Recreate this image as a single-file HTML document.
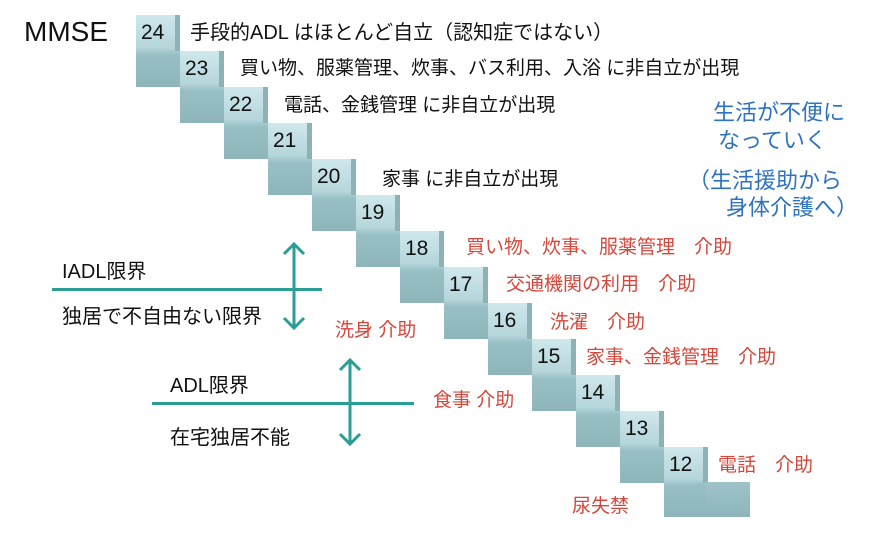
<!DOCTYPE html>
<html><head><meta charset="utf-8"><style>
body{margin:0;width:881px;height:534px;background:#fff;position:relative;overflow:hidden;font-family:"Liberation Sans","Noto Sans CJK JP",sans-serif}
.s{position:absolute;width:44px;height:72px;background:linear-gradient(#cfe8ec 0%,#b5d6db 45%,#98bfc4 55%,#8db5ba 100%)}
.s i{position:absolute;right:0;top:0;width:5px;height:36px;background:#8fb0b4}
.n{position:absolute;font-size:21px;color:#111;left:5px;top:6px}
.t{position:absolute;font-size:19px;color:#111;white-space:nowrap}
.r{color:#d4473c}
.b{color:#2e72c0;font-size:22px}
.ln{position:absolute;height:3px;background:#2a9d94}
svg{position:absolute;left:0;top:0}
</style></head><body>
<div class="t" style="left:24px;top:16px;font-size:28px">MMSE</div>
<div class="s" style="left:136px;top:15px"><i></i><span class="n">24</span></div>
<div class="s" style="left:180px;top:51px"><i></i><span class="n">23</span></div>
<div class="s" style="left:224px;top:87px"><i></i><span class="n">22</span></div>
<div class="s" style="left:268px;top:123px"><i></i><span class="n">21</span></div>
<div class="s" style="left:312px;top:159px"><i></i><span class="n">20</span></div>
<div class="s" style="left:356px;top:195px"><i></i><span class="n">19</span></div>
<div class="s" style="left:400px;top:231px"><i></i><span class="n">18</span></div>
<div class="s" style="left:444px;top:267px"><i></i><span class="n">17</span></div>
<div class="s" style="left:488px;top:303px"><i></i><span class="n">16</span></div>
<div class="s" style="left:532px;top:339px"><i></i><span class="n">15</span></div>
<div class="s" style="left:576px;top:375px"><i></i><span class="n">14</span></div>
<div class="s" style="left:620px;top:411px"><i></i><span class="n">13</span></div>
<div class="s" style="left:664px;top:447px;height:70px"><i></i><span class="n">12</span></div>
<div style="position:absolute;left:706px;top:482px;width:44px;height:35px;background:linear-gradient(#9ec4c9,#8db5ba)"></div>
<div class="t" style="left:190px;top:16px;font-size:20px">手段的ADL はほとんど自立（認知症ではない）</div>
<div class="t" style="left:240px;top:53px">買い物、服薬管理、炊事、バス利用、入浴 に非自立が出現</div>
<div class="t" style="left:284px;top:90px">電話、金銭管理 に非自立が出現</div>
<div class="t" style="left:382px;top:164px">家事 に非自立が出現</div>
<div class="t b" style="left:713px;top:95px">生活が不便に</div>
<div class="t b" style="left:718px;top:123px">なっていく</div>
<div class="t b" style="left:688px;top:163px">（生活援助から</div>
<div class="t b" style="left:726px;top:190px">身体介護へ）</div>
<div class="t r" style="left:466px;top:232px">買い物、炊事、服薬管理　介助</div>
<div class="t r" style="left:506px;top:269px">交通機関の利用　介助</div>
<div class="t r" style="left:550px;top:307px">洗濯　介助</div>
<div class="t r" style="left:586px;top:342px">家事、金銭管理　介助</div>
<div class="t r" style="left:335px;top:315px">洗身 介助</div>
<div class="t r" style="left:433px;top:385px">食事 介助</div>
<div class="t r" style="left:718px;top:450px">電話　介助</div>
<div class="t r" style="left:572px;top:491px">尿失禁</div>
<div class="t" style="left:62px;top:255px;font-size:20px">IADL限界</div>
<div class="t" style="left:62px;top:300px;font-size:20px">独居で不自由ない限界</div>
<div class="t" style="left:170px;top:369px;font-size:20px">ADL限界</div>
<div class="t" style="left:170px;top:421px;font-size:20px">在宅独居不能</div>
<div class="ln" style="left:52px;top:288px;width:270px"></div>
<div class="ln" style="left:152px;top:402px;width:262px"></div>
<svg width="881" height="534"><g stroke="#2a9d94" stroke-width="3" fill="none">
<line x1="294" y1="244" x2="294" y2="328"/><polyline points="284,254 294,244 304,254"/><polyline points="284,318 294,328 304,318"/>
<line x1="350" y1="360" x2="350" y2="444"/><polyline points="340,370 350,360 360,370"/><polyline points="340,434 350,444 360,434"/>
</g></svg>
</body></html>
